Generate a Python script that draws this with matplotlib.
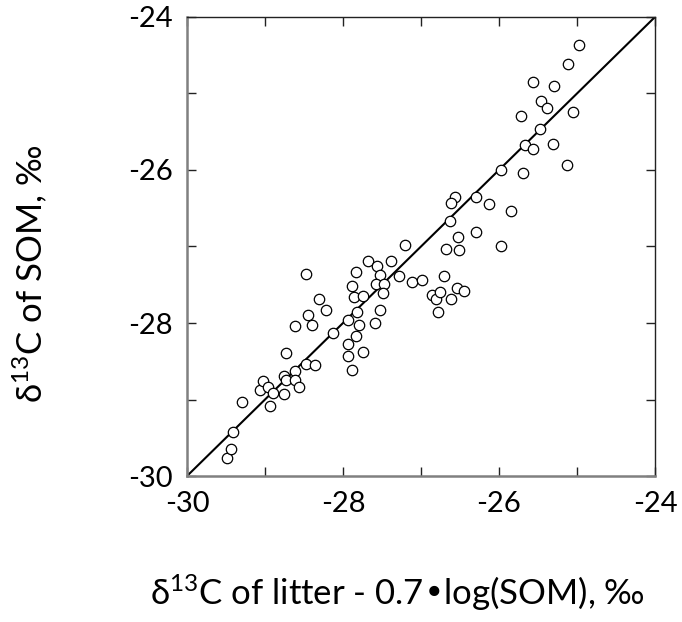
import matplotlib
matplotlib.use("Agg")
import matplotlib.pyplot as plt
from matplotlib.ticker import MultipleLocator

litter_x = [-29.49, -29.44, -29.41, -29.29, -29.06, -29.03, -28.96, -28.94, -28.90, -28.76,
            -28.76, -28.73, -28.73, -28.62, -28.62, -28.56, -28.62, -28.47, -28.45, -28.40,
            -28.48, -28.36, -28.31, -28.22, -28.13, -27.94, -27.94, -27.94, -27.89, -27.89,
            -27.86, -27.83, -27.82, -27.79, -27.83, -27.75, -27.75, -27.68, -27.56, -27.53,
            -27.58, -27.48, -27.49, -27.52, -27.59, -27.38, -27.28, -27.12, -27.21, -26.99,
            -26.68, -26.51, -25.98, -26.70, -26.86, -26.81, -26.75, -26.78, -26.61, -26.54,
            -26.45, -24.98, -25.11, -25.57, -25.29, -25.46, -25.38, -25.05, -25.72, -25.48,
            -25.67, -25.56, -25.31, -25.13, -25.97, -25.69, -26.56, -26.62, -26.30, -26.13,
            -25.85, -26.63, -26.53, -26.30]
som_y = [-29.76, -29.65, -29.42, -29.03, -28.88, -28.76, -28.84, -29.08, -28.92, -28.93,
         -28.69, -28.75, -28.39, -28.63, -28.74, -28.83, -28.04, -27.36, -27.90, -28.03,
         -28.53, -28.55, -27.68, -27.83, -28.13, -27.96, -28.27, -28.43, -28.62, -27.51,
         -27.66, -27.33, -27.86, -28.03, -28.17, -28.38, -27.65, -27.19, -27.26, -27.37,
         -27.49, -27.49, -27.61, -27.83, -28.00, -27.19, -27.39, -27.47, -26.98, -27.44,
         -27.03, -27.05, -26.99, -27.39, -27.63, -27.69, -27.60, -27.85, -27.69, -27.54,
         -27.58, -24.37, -24.61, -24.85, -24.90, -25.10, -25.19, -25.24, -25.30, -25.46,
         -25.67, -25.73, -25.66, -25.93, -26.00, -26.04, -26.35, -26.43, -26.35, -26.45,
         -26.53, -26.67, -26.87, -26.81]

one_to_one = [-30, -24]
tick_labels = ["-30", "-28", "-26", "-24"]

plt.rcParams['font.family'] = ['Lato', 'DejaVu Sans']
plt.rcParams['mathtext.default'] = 'regular'
plt.rcParams['axes.unicode_minus'] = False

fig = plt.figure(figsize=(6.82, 6.22), dpi=100)
ax = fig.add_axes([0.2742, 0.2347, 0.6862, 0.738])

ax.plot(one_to_one, one_to_one, color='black', lw=1.5, zorder=2)
ax.plot(litter_x, som_y, 'o', ms=7.5, mfc='white', mec='black', mew=0.9, zorder=3)

ax.set_xlim(-30, -24)
ax.set_ylim(-30, -24)
ax.xaxis.set_minor_locator(MultipleLocator(1))
ax.yaxis.set_minor_locator(MultipleLocator(1))
ax.set_xticks([-30, -28, -26, -24])
ax.set_xticklabels(tick_labels)
ax.set_yticks([-30, -28, -26, -24])
ax.set_yticklabels(tick_labels)

ax.tick_params(which='both', direction='in', top=True, right=True,
               length=6.5, width=1, color='#222222', labelsize=21)
ax.tick_params(axis='x', pad=11)
ax.tick_params(axis='y', pad=10)

for side in ['left', 'bottom']:
    ax.spines[side].set_color('#808080')
    ax.spines[side].set_linewidth(1.8)
for side in ['top', 'right']:
    ax.spines[side].set_color('#222222')
    ax.spines[side].set_linewidth(1.0)

ax.set_xlabel('δ$^{13}$C of litter - 0.7•log(SOM), ‰', fontsize=25)
ax.set_ylabel('δ$^{13}$C of SOM, ‰', fontsize=25)
ax.xaxis.set_label_coords(0.45, -0.212)
ax.yaxis.set_label_coords(-0.295, 0.44)

fig.savefig('out.png', dpi=100)
